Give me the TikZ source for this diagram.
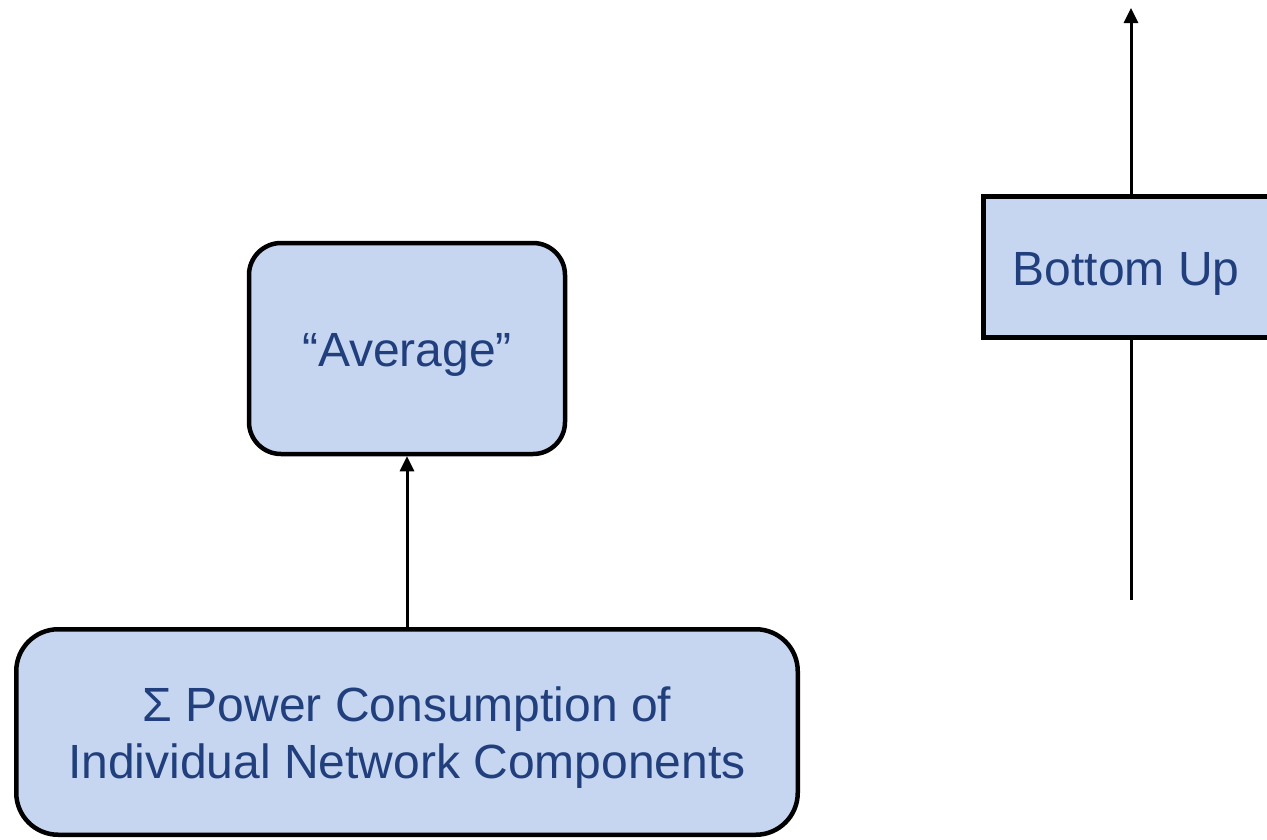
\documentclass[tikz,border=0pt]{standalone}
\usepackage{fontspec}
\setmainfont{Liberation Sans}
\usetikzlibrary{arrows.meta}
\definecolor{boxfill}{HTML}{C6D6F1}
\definecolor{boxtext}{HTML}{213F7D}
\newcommand{\lowtext}[1]{\raisebox{-7pt}[\height][\depth]{\begin{tabular}{@{}c@{}}#1\end{tabular}}}
\tikzset{
  boxbase/.style={draw=black, line width=4.5pt, fill=boxfill, text=boxtext,
    align=center, inner sep=0pt, font=\fontsize{48}{57}\selectfont},
  conn/.style={line width=3pt, -{Triangle[length=15pt,width=14pt]}},
  plainline/.style={line width=3pt}
}
\begin{document}
\begin{tikzpicture}[x=1pt,y=-1pt]
\useasboundingbox (0,0) rectangle (1267,839);
\clip (0,0) rectangle (1267,839);
\coordinate (bustart) at (1131,600);
\coordinate (buend) at (1131,8);
\node[boxbase, rounded corners=32pt, minimum width=316pt, minimum height=211pt] (avg) at (407,348.5) {\lowtext{“Average”}};
\node[boxbase, rounded corners=42pt, minimum width=781.5pt, minimum height=205.5pt] (sum) at (407,732) {\lowtext{Σ Power Consumption of\\Individual Network Components}};
\node[boxbase, minimum width=285.5pt, minimum height=141pt] (bu) at (1126.25,267) {\lowtext{Bottom Up}};
\draw[conn] (sum.north) -- (avg.south);
\draw[plainline] (bustart) -- (bustart |- bu.south);
\draw[conn] (buend |- bu.north) -- (buend);
\end{tikzpicture}
\end{document}
